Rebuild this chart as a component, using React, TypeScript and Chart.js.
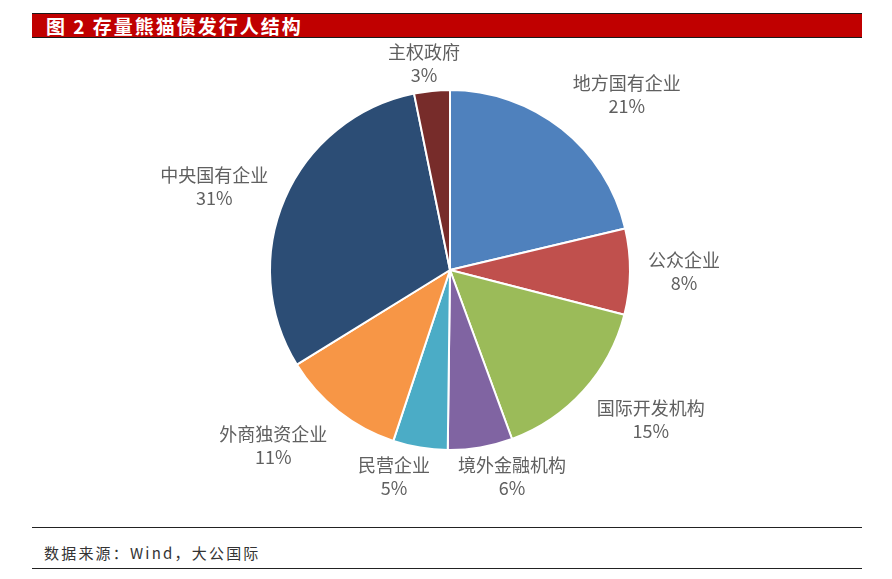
import React, { useEffect, useRef } from 'react';
import { Chart, registerables } from 'chart.js';

Chart.register(...registerables);

const categories = ['地方国有企业', '公众企业', '国际开发机构', '境外金融机构', '民营企业', '外商独资企业', '中央国有企业', '主权政府'];
const shares = [21.3, 7.7, 15.4, 5.8, 4.9, 11.1, 30.6, 3.2];
const sliceColors = ['#4F81BD', '#C0504D', '#9BBB59', '#8064A2', '#4BACC6', '#F79646', '#2C4D75', '#772C2A'];

const LABEL_FONT = '18px "Noto Sans CJK SC", "Noto Sans", sans-serif';
const LINE_H = 23;

const clamp01 = (v: number) => Math.min(1, Math.max(0, v));

const outsideLabels = {
  id: 'outsideLabels',
  afterDraw(chart: any) {
    const ctx = chart.ctx as CanvasRenderingContext2D;
    const meta = chart.getDatasetMeta(0);
    const topLimit = 4;
    const bottomLimit = chart.height - 23;
    ctx.save();
    ctx.font = LABEL_FONT;
    const boxes = meta.data.map((arc: any, i: number) => {
      const p = arc.getProps(['x', 'y', 'startAngle', 'endAngle', 'outerRadius'], true);
      const a = (p.startAngle + p.endAngle) / 2;
      const dx = Math.cos(a);
      const dy = Math.sin(a);
      const ux = Math.sign(dx) * Math.min(1, Math.abs(dx) / 0.6);
      const uy = Math.sign(dy) * clamp01((Math.abs(dy) - 0.3) / 0.45);
      const t1 = categories[i];
      const t2 = Math.round(shares[i]) + '%';
      const w = Math.max(ctx.measureText(t1).width, ctx.measureText(t2).width);
      const h = 40;
      const ax = p.x + (p.outerRadius + 18) * dx;
      const ay = p.y + (p.outerRadius + 18) * dy;
      let cx = ax + ux * (w / 2);
      let cy = ay + uy * (h / 2);
      cy = Math.min(Math.max(cy, topLimit + h / 2), bottomLimit - h / 2);
      return { cx, cy, w, h, t1, t2 };
    });
    const pad = 28;
    for (let it = 0; it < 20; it++) {
      for (let i = 0; i < boxes.length; i++) {
        for (let j = i + 1; j < boxes.length; j++) {
          const A = boxes[i], B = boxes[j];
          if (Math.abs(A.cy - B.cy) >= (A.h + B.h) / 2) continue;
          const need = (A.w + B.w) / 2 + pad;
          const d = Math.abs(A.cx - B.cx);
          if (d < need) {
            const push = (need - d) / 2;
            if (A.cx < B.cx) { A.cx -= push; B.cx += push; } else { A.cx += push; B.cx -= push; }
          }
        }
      }
    }
    ctx.fillStyle = '#606060';
    ctx.textAlign = 'center';
    ctx.textBaseline = 'middle';
    boxes.forEach((b: any) => {
      ctx.fillText(b.t1, b.cx, b.cy - LINE_H / 2);
      ctx.fillText(b.t2, b.cx, b.cy + LINE_H / 2);
    });
    ctx.restore();
  },
};

export default function App() {
  const ref = useRef<HTMLCanvasElement>(null);
  useEffect(() => {
    if (!ref.current) return;
    const chart = new Chart(ref.current, {
      type: 'pie',
      data: {
        labels: categories,
        datasets: [
          {
            data: shares,
            backgroundColor: sliceColors,
            borderColor: '#ffffff',
            borderWidth: 2,
          },
        ],
      },
      options: {
        responsive: false,
        animation: false,
        layout: { padding: { top: 49, bottom: 69, left: 200, right: 194 } },
        plugins: {
          legend: { display: false },
          tooltip: { enabled: false },
        },
      },
      plugins: [outsideLabels],
    });
    return () => chart.destroy();
  }, []);

  return (
    <div style={{ position: 'fixed', left: 0, top: 0, width: 892, height: 579, background: '#fff', overflow: 'hidden' }}>
      <div
        style={{
          position: 'absolute', left: 32, top: 13, width: 830, height: 25, boxSizing: 'border-box',
          background: '#C00000', borderTop: '1px solid #1a1a1a', borderBottom: '1px solid #1a1a1a',
        }}
      />
      <div
        style={{
          position: 'absolute', left: 46, top: 13, height: 25, lineHeight: '25px', color: '#fff',
          fontFamily: '"Noto Sans CJK SC", sans-serif', fontWeight: 'bold', fontSize: 19, whiteSpace: 'pre', letterSpacing: 2,
        }}
      >
        图 2 存量熊猫债发行人结构
      </div>
      <canvas ref={ref} width={830} height={480} style={{ position: 'absolute', left: 32, top: 40, width: 830, height: 480 }} />
      <div style={{ position: 'absolute', left: 32, top: 527, width: 830, height: 1, background: '#222' }} />
      <div
        style={{
          position: 'absolute', left: 44, top: 541, lineHeight: '24px', color: '#333',
          fontFamily: '"Noto Sans CJK SC", sans-serif', fontSize: 15, letterSpacing: 2.2, whiteSpace: 'pre',
        }}
      >
        数据来源：Wind，大公国际
      </div>
      <div style={{ position: 'absolute', left: 32, top: 568, width: 830, height: 1, background: '#222' }} />
    </div>
  );
}
